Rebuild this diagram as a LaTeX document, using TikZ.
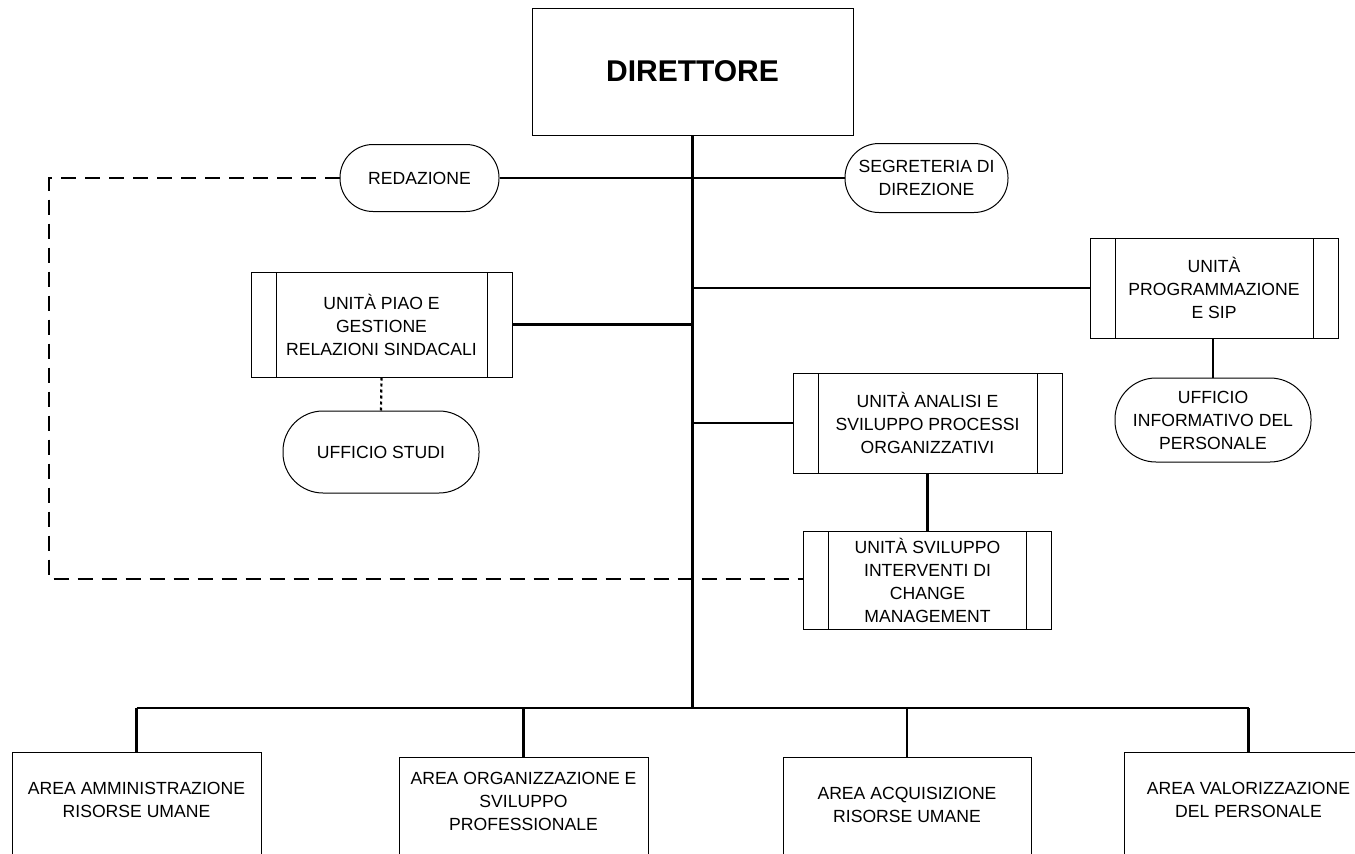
\documentclass[tikz,border=0pt]{standalone}
\usepackage{fontspec}
\setmainfont{Liberation Sans}
\newcommand\liftbox[2]{\raisebox{#1}[\height][\depth]{\begin{tabular}{@{}c@{}}#2\end{tabular}}}
\begin{document}
\begin{tikzpicture}[x=1pt,y=-1pt,
  every node/.style={font=\fontsize{17.6}{23}\selectfont, align=center, inner sep=0pt},
  boxline/.style={draw=black, line width=1pt},
  plainbox/.style={boxline, rectangle, minimum width=#1},
  procbox/.style={boxline, rectangle, minimum width=#1,
    path picture={
      \draw[line width=1pt] ([xshift=25pt]path picture bounding box.north west) -- ([xshift=25pt]path picture bounding box.south west);
      \draw[line width=1pt] ([xshift=-25pt]path picture bounding box.north east) -- ([xshift=-25pt]path picture bounding box.south east);
    }},
  stadium/.style={boxline, rectangle, rounded corners=#1},
  conn/.style={draw=black, line width=2.2pt},
  dashconn/.style={draw=black, line width=2.2pt, dash pattern=on 15pt off 9pt},
  dotconn/.style={draw=black, line width=2.2pt, dash pattern=on 3pt off 3pt}
]
\useasboundingbox (0,0) rectangle (1355,854);
\fill[white] (0,0) rectangle (1355,854);
\clip (0,0) rectangle (1355,854);

% Director
\node[plainbox=321pt, minimum height=127pt, font=\fontsize{30}{36}\selectfont\bfseries] (dir) at (692.5,71.5) {DIRETTORE};

% staff ovals
\node[stadium=33pt, minimum width=159pt, minimum height=67pt] (red) at (419.5,178) {REDAZIONE};
\node[stadium=34pt, minimum width=163pt, minimum height=69pt] (seg) at (926.5,178) {SEGRETERIA DI\\DIREZIONE};

% units
\node[procbox=248pt, minimum height=100pt] (prog) at (1214,288) {UNITÀ\\PROGRAMMAZIONE\\E SIP};
\node[stadium=41pt, minimum width=196pt, minimum height=84pt] (info) at (1213,420) {UFFICIO\\INFORMATIVO DEL\\PERSONALE};

\node[procbox=261pt, minimum height=105pt] (piao) at (381.5,324.5) {UNITÀ PIAO E\\GESTIONE\\RELAZIONI SINDACALI};
\node[stadium=40pt, minimum width=196pt, minimum height=82pt] (studi) at (381,452) {UFFICIO STUDI};

\node[procbox=269pt, minimum height=100pt] (analisi) at (927.5,423) {UNITÀ ANALISI E\\SVILUPPO PROCESSI\\ORGANIZZATIVI};
\node[procbox=248pt, minimum height=98pt] (svil) at (927.5,580) {UNITÀ SVILUPPO\\INTERVENTI DI\\CHANGE\\MANAGEMENT};

% areas (bottom edges run off the page, as in the reference)
\node[plainbox=249pt, minimum height=110pt] (a1) at (136.5,807) {\liftbox{6pt}{AREA AMMINISTRAZIONE\\RISORSE UMANE}};
\node[plainbox=249pt, minimum height=110pt] (a2) at (523.5,812) {\liftbox{9pt}{AREA ORGANIZZAZIONE E\\SVILUPPO\\PROFESSIONALE}};
\node[plainbox=248pt, minimum height=110pt] (a3) at (907,812) {\liftbox{6pt}{AREA ACQUISIZIONE\\RISORSE UMANE}};
\node[plainbox=249pt, minimum height=110pt] (a4) at (1248.5,807) {\liftbox{6pt}{AREA VALORIZZAZIONE\\DEL PERSONALE}};

% connectors
\coordinate (bus) at (692.5,708);
\coordinate (dl) at (49,178);
\coordinate (dlb) at (49,579);

\draw[conn] (dir.south) -- (bus);
\draw[conn] (red.east) -- (seg.west);
\draw[conn] (dir.south |- prog.west) -- (prog.west);
\draw[conn] (dir.south |- piao.east) -- (piao.east);
\draw[conn] (dir.south |- analisi.west) -- (analisi.west);
\draw[conn] (analisi.south) -- (svil.north);
\draw[conn] (prog.south -| info.north) -- (info.north);
\draw[dotconn] (piao.south) -- (studi.north);
\draw[dashconn] (red.west) -- (dl) -- (dlb) -- (dlb -| svil.west);

\draw[conn] (a1.north |- bus) -- (a4.north |- bus);
\draw[conn] (a1.north |- bus) -- (a1.north);
\draw[conn] (a2.north |- bus) -- (a2.north);
\draw[conn] (a3.north |- bus) -- (a3.north);
\draw[conn] (a4.north |- bus) -- (a4.north);
\end{tikzpicture}
\end{document}
